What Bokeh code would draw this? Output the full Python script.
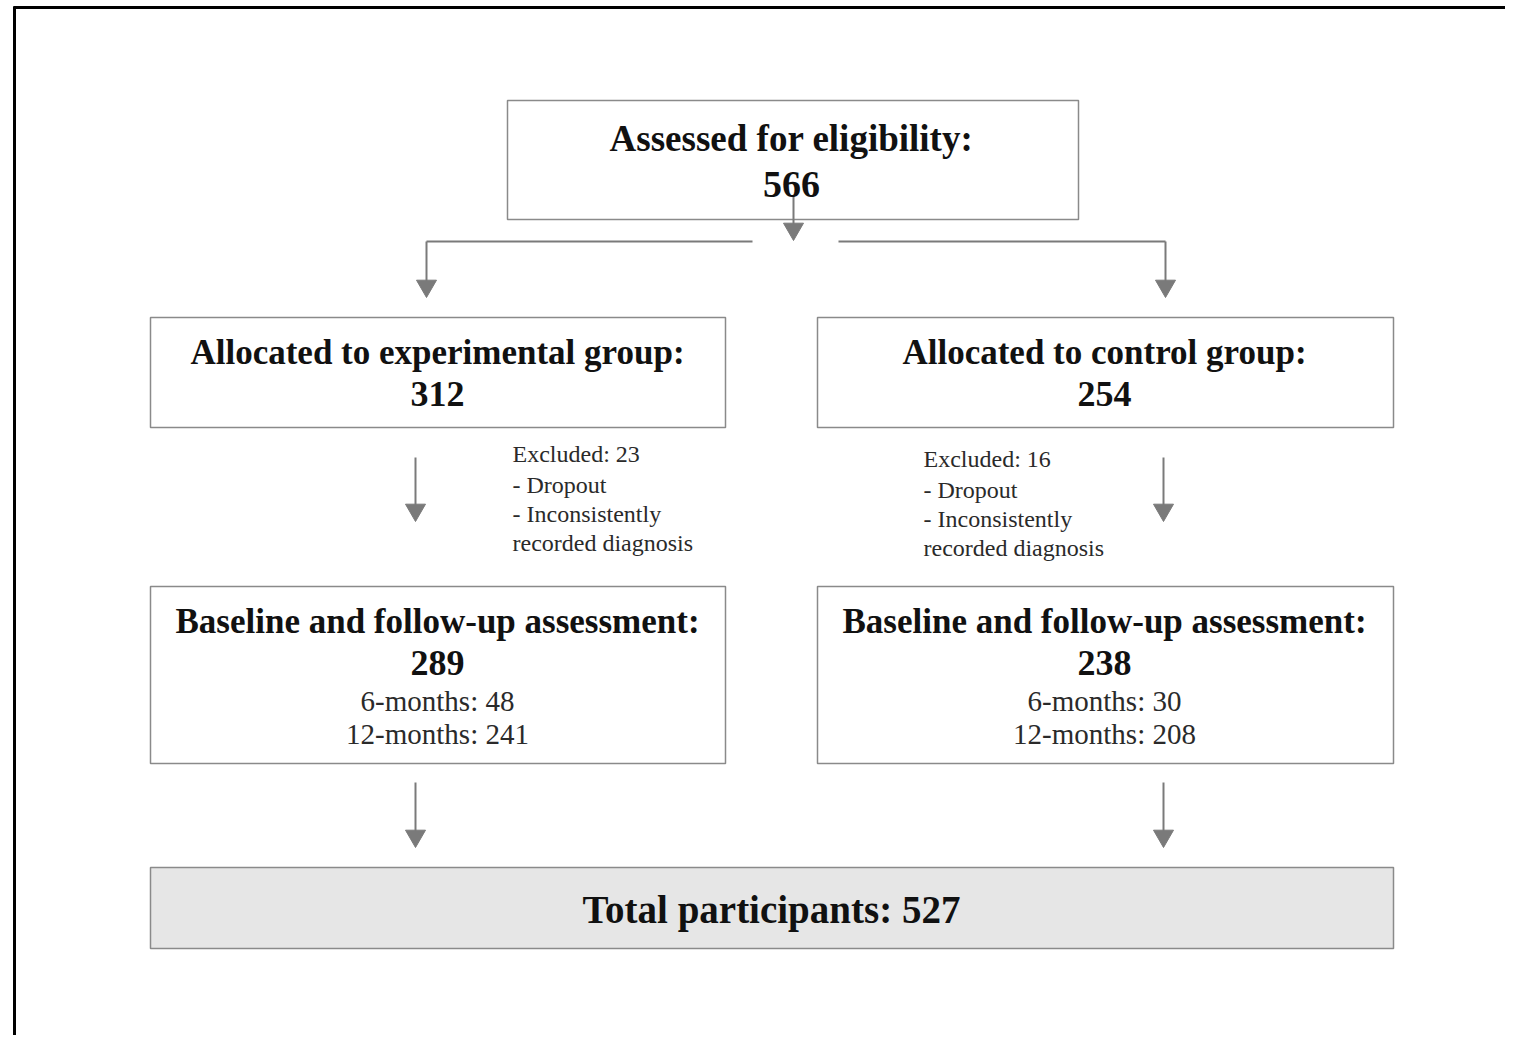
from bokeh.plotting import figure
from bokeh.models import Range1d
from bokeh.core.properties import value
from bokeh.embed import file_html
from bokeh.resources import INLINE

# ---------------- data ----------------
assessed = 566
group_titles = ["Allocated to experimental group:", "Allocated to control group:"]
allocated = [312, 254]
excluded = [23, 16]
exclusion_reasons = ["- Dropout", "- Inconsistently", "recorded diagnosis"]
followup_title = "Baseline and follow-up assessment:"
followup_total = [289, 238]
six_months = [48, 30]
twelve_months = [241, 208]
total_participants = 527

# ---------------- layout (screen-like coordinates) ----------------
W, H = 1505, 1035
p = figure(width=W, height=H, output_backend="svg", toolbar_location=None,
           x_range=Range1d(0, W), y_range=Range1d(H, 0),
           min_border=0, outline_line_color=None, background_fill_color="white",
           border_fill_color="white")
p.axis.visible = False
p.grid.visible = False

FONT = value("Liberation Serif")
BOX_LINE = "#8a8a8a"
ARROW = "#7a7a7a"

# frame lines (top and left)
p.segment(x0=[13, 14], y0=[7, 6], x1=[W, 14], y1=[7, H], line_color="black", line_width=3)

# boxes
top_box = dict(l=507, r=1078, t=100, b=219)
col_cx = [437, 1104]
col_l = [150, 817]
col_r = [725, 1393]
row2 = (317, 427)
row3 = (586, 763)
bottom_box = dict(l=150, r=1393, t=867, b=948)

p.quad(left=[top_box["l"]] + col_l + col_l,
       right=[top_box["r"]] + col_r + col_r,
       top=[top_box["t"], row2[0], row2[0], row3[0], row3[0]],
       bottom=[top_box["b"], row2[1], row2[1], row3[1], row3[1]],
       fill_color="white", line_color=BOX_LINE, line_width=1.5)
p.quad(left=[bottom_box["l"]], right=[bottom_box["r"]], top=[bottom_box["t"]], bottom=[bottom_box["b"]],
       fill_color="#e6e6e6", line_color=BOX_LINE, line_width=1.5)

# connectors
shaft_x0 = [793, 426, 1165, 415, 1163, 415, 1163]
shaft_y0 = [196, 241, 241, 457, 457, 782, 782]
shaft_y1 = [228, 285, 285, 509, 509, 835, 835]
p.segment(x0=shaft_x0, y0=shaft_y0, x1=shaft_x0, y1=shaft_y1, line_color=ARROW, line_width=2)
p.segment(x0=[426, 838], y0=[241, 241], x1=[752, 1165], y1=[241, 241], line_color=ARROW, line_width=2)
tips = [240, 297, 297, 521, 521, 847, 847]
size = 20
h = size * 0.8660254
p.scatter(x=shaft_x0, y=[t - 2 * h / 3 for t in tips], marker="inverted_triangle", size=size,
          fill_color=ARROW, line_color=ARROW)

# ---------------- text ----------------
def txt(x, y, s, size, bold=True, align="center", color="#111111"):
    p.text(x=x, y=y, text=s, text_font=FONT, text_font_size=size,
           text_font_style="bold" if bold else "normal", text_align=align,
           text_baseline="middle", text_color=color)

txt([791], [138], ["Assessed for eligibility:"], "37px")
txt([791], [184], [str(assessed)], "38px")

txt(col_cx, [352, 352], group_titles, "35px")
txt(col_cx, [393, 393], [str(v) for v in allocated], "36px")

ex_x = [512, 923]
ex_y0 = [453, 458]
for i in range(2):
    lines = [f"Excluded: {excluded[i]}"] + exclusion_reasons
    txt([ex_x[i]] * 4, [ex_y0[i] + d for d in (0, 31, 60, 89)], lines, "24px", bold=False,
        align="left", color="#2a2a2a")

txt(col_cx, [621, 621], [followup_title] * 2, "35px")
txt(col_cx, [662, 662], [str(v) for v in followup_total], "36px")
txt(col_cx, [700, 700], [f"6-months: {v}" for v in six_months], "29px", bold=False, color="#2a2a2a")
txt(col_cx, [733, 733], [f"12-months: {v}" for v in twelve_months], "29px", bold=False, color="#2a2a2a")

txt([771], [909], [f"Total participants: {total_participants}"], "39px")

open("out.html", "w").write(file_html(p, INLINE))
